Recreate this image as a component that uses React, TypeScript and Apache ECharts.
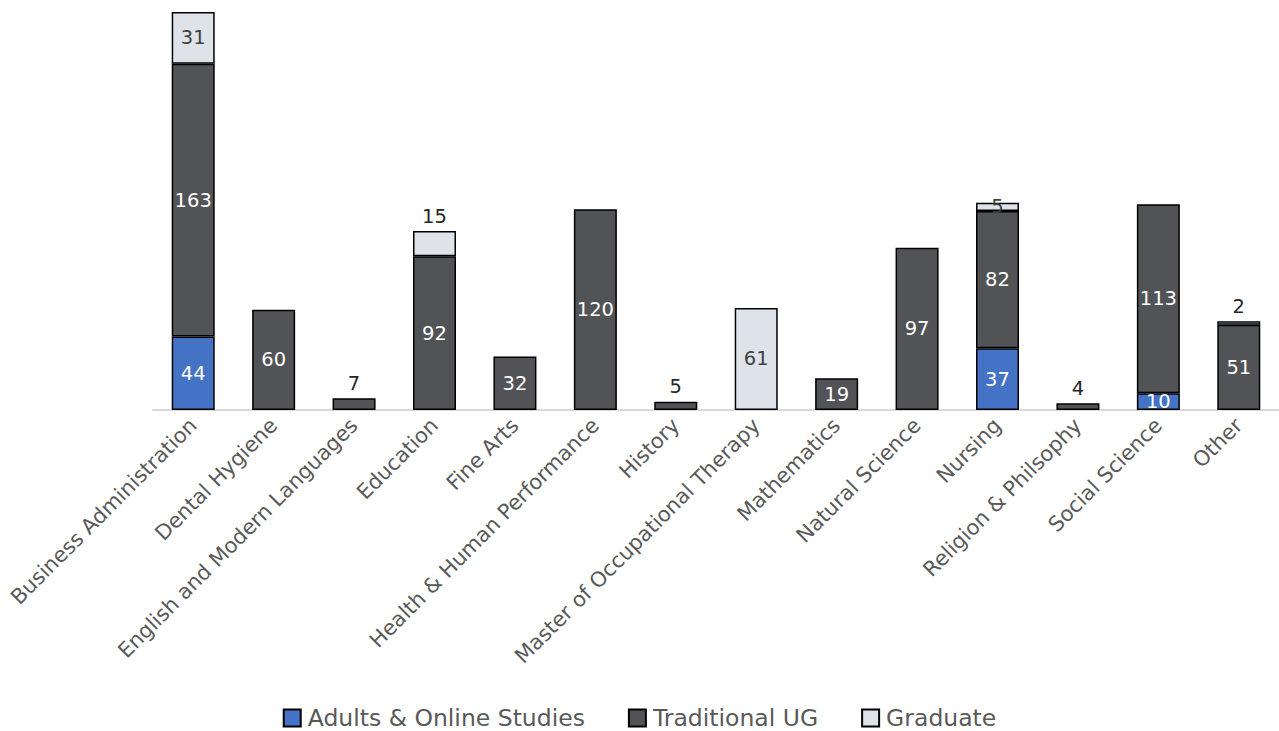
import React, { useEffect, useRef } from "react";
import * as echarts from "echarts";

const categories = [
  "Business Administration",
  "Dental Hygiene",
  "English and Modern Languages",
  "Education",
  "Fine Arts",
  "Health & Human Performance",
  "History",
  "Master of Occupational Therapy",
  "Mathematics",
  "Natural Science",
  "Nursing",
  "Religion & Philsophy",
  "Social Science",
  "Other",
];

const adults: (number | null)[] = [44, null, null, null, null, null, null, null, null, null, 37, null, 10, null];
const traditional: (number | null)[] = [163, 60, 7, 92, 32, 120, 5, null, 19, 97, 82, 4, 113, 51];
const graduate: (number | null)[] = [31, null, null, 15, null, null, null, 61, null, null, 5, null, null, 2];

// values whose labels sit above the bar
const tradLabelTop = [2, 6, 11];
const gradLabelTop = [3, 13];

const FONT = "'DejaVu Sans', 'Open Sans', sans-serif";

export default function App() {
  const ref = useRef<HTMLDivElement>(null);

  useEffect(() => {
    if (!ref.current) return;
    const chart = echarts.init(ref.current, null, { renderer: "svg" });

    const mk = (arr: (number | null)[], topIdx: number[], insideColor: string) =>
      arr.map((v, i) =>
        v == null
          ? null
          : topIdx.includes(i)
          ? { value: v, label: { position: "top", color: "#262626", distance: 5 } }
          : { value: v, label: { color: insideColor } }
      );

    const baseLabel = {
      show: true,
      position: "inside",
      fontSize: 19.5,
      fontFamily: FONT,
    };

    chart.setOption({
      animation: false,
      grid: { left: 153, right: 0, top: 12, bottom: 321, containLabel: false },
      xAxis: {
        type: "category",
        data: categories,
        axisLine: { show: true, lineStyle: { color: "#d9d9d9", width: 2 } },
        axisTick: { show: false },
        axisLabel: {
          rotate: 45,
          interval: 0,
          color: "#595959",
          fontSize: 21,
          fontFamily: FONT,
          margin: 12,
        },
      },
      yAxis: {
        type: "value",
        min: 0,
        max: 238,
        show: false,
        splitLine: { show: false },
      },
      legend: {
        top: 706,
        left: "center",
        padding: 0,
        icon: "rect",
        itemWidth: 17,
        itemHeight: 17,
        itemGap: 43,
        textStyle: {
          color: "#595959",
          fontSize: 23.5,
          lineHeight: 24,
          fontFamily: FONT,
          padding: [0, 0, 0, 2],
        },
        data: ["Adults & Online Studies", "Traditional UG", "Graduate"],
      },
      series: [
        {
          name: "Adults & Online Studies",
          type: "bar",
          stack: "total",
          barWidth: 43,
          data: mk(adults, [], "#ffffff"),
          itemStyle: { color: "#4472C4", borderColor: "#000000", borderWidth: 1.5 },
          label: { ...baseLabel, color: "#ffffff" },
        },
        {
          name: "Traditional UG",
          type: "bar",
          stack: "total",
          barWidth: 43,
          data: mk(traditional, tradLabelTop, "#ffffff"),
          itemStyle: { color: "#525356", borderColor: "#000000", borderWidth: 1.5 },
          label: { ...baseLabel, color: "#ffffff" },
        },
        {
          name: "Graduate",
          type: "bar",
          stack: "total",
          barWidth: 43,
          data: mk(graduate, gradLabelTop, "#404040"),
          itemStyle: { color: "#DEE3EA", borderColor: "#000000", borderWidth: 1.5 },
          label: { ...baseLabel, color: "#404040" },
        },
      ],
    });

    return () => chart.dispose();
  }, []);

  return <div ref={ref} style={{ width: 1279, height: 731, position: "absolute", left: 0, top: 0, background: "#fff" }} />;
}
